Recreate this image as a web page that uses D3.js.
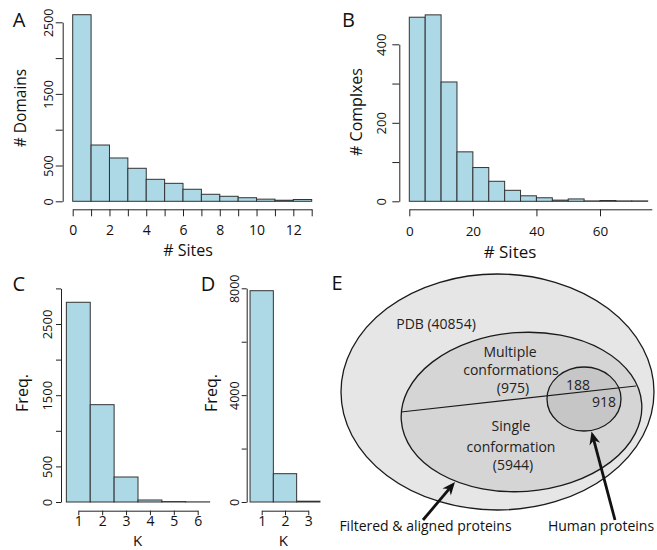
<!DOCTYPE html>
<html><head><meta charset="utf-8">
<script src="https://cdn.jsdelivr.net/npm/d3@7"></script>
<style>body{margin:0;background:#fff}svg{display:block}</style>
</head><body>
<script>
// ---------- DATA ----------
const aEdges = [0,1,2,3,4,5,6,7,8,9,10,11,12,13];
const aCounts = [2606,786,605,461,307,251,168,98,70,50,30,15,25];
const aYTicks = [0,500,1000,1500,2000,2500];
const aYLabels = [0,500,1500,2500];
const aXTicks = [0,1,2,3,4,5,6,7,8,9,10,11,12,13];
const aXLabels = [0,2,4,6,8,10,12];

const bEdges = [0,5,10,15,20,25,30,35,40,45,50,55,60,65,70,75];
const bCounts = [469,475,304,126,86,51,28,14,9,3,6,1,2,1,1];
const bYTicks = [0,100,200,300,400];
const bYLabels = [0,200,400];
const bXTicks = [0,20,40,60];

const cK = [1,2,3,4,5,6];
const cCounts = [2805,1367,351,28,6,2];
const cYTicks = [0,500,1000,1500,2000,2500,3000];
const cYLabels = [0,500,1500,2500];

const dK = [1,2,3];
const dCounts = [7910,1060,30];
const dYTicks = [0,2000,4000,6000,8000];
const dYLabels = [0,4000,8000];

const vennTexts = [
  {t:"PDB (40854)", x:436, y:328.5},
  {t:"Multiple", x:510, y:357},
  {t:"conformations", x:511, y:375},
  {t:"(975)", x:513, y:392.5},
  {t:"188", x:578, y:390},
  {t:"918", x:604, y:406.5},
  {t:"Single", x:511, y:431},
  {t:"conformation", x:511, y:451.5},
  {t:"(5944)", x:513, y:469.5}
];
const vennCaptions = [
  {t:"Filtered & aligned proteins", x:425.5, y:531},
  {t:"Human proteins", x:601, y:531}
];

// ---------- DRAW ----------
const W=657,H=550;
const FONT = "'Open Sans', 'Noto Sans', sans-serif";
const BAR_FILL = "#add8e6", BAR_STROKE = "#333";
const svg = d3.select("body").append("svg").attr("width",W).attr("height",H)
  .attr("font-family",FONT);
svg.append("rect").attr("width",W).attr("height",H).attr("fill","#fff");

function yAxis(scale, ticks, labels, xPos, tickLen, labOff, fs){
  const g = svg.append("g").attr("transform",`translate(${xPos},0)`)
    .call(d3.axisLeft(scale).tickValues(ticks).tickSize(tickLen).tickSizeOuter(0)
      .tickFormat(d => labels.includes(d) ? d : ""));
  g.attr("font-family",FONT).attr("font-size",fs);
  g.selectAll("path,line").attr("stroke","#222");
  g.selectAll(".tick text").attr("transform","rotate(-90)").attr("x",0)
    .attr("y",-labOff).attr("dy",0).attr("text-anchor","middle").attr("fill","#111");
}
function xAxis(scale, ticks, labels, yPos, tickLen, labOff, fs){
  const g = svg.append("g").attr("transform",`translate(0,${yPos})`)
    .call(d3.axisBottom(scale).tickValues(ticks).tickSize(tickLen).tickSizeOuter(0)
      .tickFormat(d => labels.includes(d) ? d : ""));
  g.attr("font-family",FONT).attr("font-size",fs);
  g.selectAll("path,line").attr("stroke","#222");
  g.selectAll(".tick text").attr("y",labOff).attr("dy",0).attr("fill","#111");
}
function label(t,x,y,fs,rot){
  const s = svg.append("text").text(t).attr("font-size",fs).attr("fill","#111")
    .attr("text-anchor","middle");
  if(rot){ s.attr("transform",`translate(${x},${y}) rotate(-90)`).attr("dy","0.35em"); }
  else s.attr("x",x).attr("y",y);
  return s;
}
function bars(x0s,x1s,counts,x,y){
  svg.append("g").selectAll("rect").data(counts).join("rect")
    .attr("x",(d,i)=>x(x0s[i])).attr("width",(d,i)=>x(x1s[i])-x(x0s[i]))
    .attr("y",d=>y(d)).attr("height",d=>y(0)-y(d))
    .attr("fill",BAR_FILL).attr("stroke",BAR_STROKE).attr("stroke-width",1);
}

// Panel A
{
  const x = d3.scaleLinear().domain([0,13]).range([72.7,311.7]);
  const y = d3.scaleLinear().domain([0,2500]).range([201.3,22.3]);
  bars(aEdges.slice(0,-1), aEdges.slice(1), aCounts, x, y);
  yAxis(y, aYTicks, aYLabels, 62.7, 7, 9.5, 12.5);
  xAxis(x, aXTicks, aXLabels, 209.3, 7, 25.7, 14);
  label("# Sites", 188, 256, 16);
  label("# Domains", 21, 108, 15.5, true);
  label("A", 19, 27, 20);
}
// Panel B
{
  const x = d3.scaleLinear().domain([0,60]).range([409.3,600]);
  const y = d3.scaleLinear().domain([0,400]).range([201.3,44.3]);
  bars(bEdges.slice(0,-1), bEdges.slice(1), bCounts, x, y);
  yAxis(y, bYTicks, bYLabels, 399.3, 7, 13, 13);
  const xa = x.copy().domain([0,76.3]).range([x(0), x(76.3)]);
  xAxis(xa, bXTicks, bXTicks, 209.3, 7, 27, 13.5);
  label("# Sites", 510, 258, 17);
  label("# Complxes", 356, 112, 16, true);
  label("B", 348.5, 26.5, 20);
}
// Panel C
{
  const x = d3.scaleLinear().domain([1,6]).range([78.3,197.7]);
  const y = d3.scaleLinear().domain([0,2500]).range([502,324]);
  bars(cK.map(k=>k-0.5), cK.map(k=>k+0.5), cCounts, x, y);
  const ya = y.copy().domain([0,3000]).range([y(0), y(3000)]);
  yAxis(ya, cYTicks, cYLabels, 61, 5, 9.5, 13);
  xAxis(x, cK, cK, 510.7, 4.5, 15, 14);
  label("K", 137.5, 546, 15);
  label("Freq.", 22, 393, 16, true);
  label("C", 18.8, 290.5, 20);
}
// Panel D
{
  const x = d3.scaleLinear().domain([1,3]).range([261.7,308.3]);
  const y = d3.scaleLinear().domain([0,8000]).range([502,288.3]);
  bars(dK.map(k=>k-0.5), dK.map(k=>k+0.5), dCounts, x, y);
  yAxis(y, dYTicks, dYLabels, 246.7, 5, 7.8, 12.5);
  xAxis(x, dK, dK, 510.7, 4.5, 15, 14);
  label("K", 283.3, 546, 15);
  label("Freq.", 211, 393, 16, true);
  label("D", 208, 291, 20);
}
// Panel E (Venn)
{
  const g = svg.append("g");
  g.append("ellipse").attr("cx",497.5).attr("cy",392).attr("rx",156.5).attr("ry",118)
    .attr("fill","#e6e6e6").attr("stroke","#1a1a1a").attr("stroke-width",1.3);
  g.append("ellipse").attr("cx",521.5).attr("cy",412).attr("rx",120.5).attr("ry",79.5)
    .attr("transform","rotate(-4 521.5 412)")
    .attr("fill","#d5d5d5").attr("stroke","#1a1a1a").attr("stroke-width",1.3);
  g.append("ellipse").attr("cx",584).attr("cy",399).attr("rx",37).attr("ry",32)
    .attr("fill","#c6c6c6").attr("stroke","#1a1a1a").attr("stroke-width",1.3);
  g.append("line").attr("x1",401).attr("y1",412).attr("x2",636).attr("y2",386)
    .attr("stroke","#1a1a1a").attr("stroke-width",1.2);
  g.selectAll("text.v").data(vennTexts).join("text").attr("class","v")
    .attr("x",d=>d.x).attr("y",d=>d.y).attr("text-anchor","middle")
    .attr("font-size",14).attr("fill","#222").text(d=>d.t);
  g.selectAll("text.c").data(vennCaptions).join("text").attr("class","c")
    .attr("x",d=>d.x).attr("y",d=>d.y).attr("text-anchor","middle")
    .attr("font-size",14).attr("fill","#111").text(d=>d.t);
  function arrow(x0,y0,x1,y1){
    const dx=x1-x0, dy=y1-y0, L=Math.hypot(dx,dy), ux=dx/L, uy=dy/L, nx=-uy, ny=ux;
    const hl=13, hw=5.5, notch=4;
    g.append("line").attr("x1",x0).attr("y1",y0)
      .attr("x2",x1-ux*(hl-notch)).attr("y2",y1-uy*(hl-notch))
      .attr("stroke","#111").attr("stroke-width",2.8);
    const pts=[[x1,y1],[x1-ux*hl+nx*hw,y1-uy*hl+ny*hw],[x1-ux*(hl-notch),y1-uy*(hl-notch)],
      [x1-ux*hl-nx*hw,y1-uy*hl-ny*hw]];
    g.append("polygon").attr("points",pts.map(p=>p.join(",")).join(" ")).attr("fill","#111");
  }
  arrow(423,520,455,482);
  arrow(615,520,591.5,431.5);
  label("E", 337, 290, 20);
}
</script>
</body></html>
